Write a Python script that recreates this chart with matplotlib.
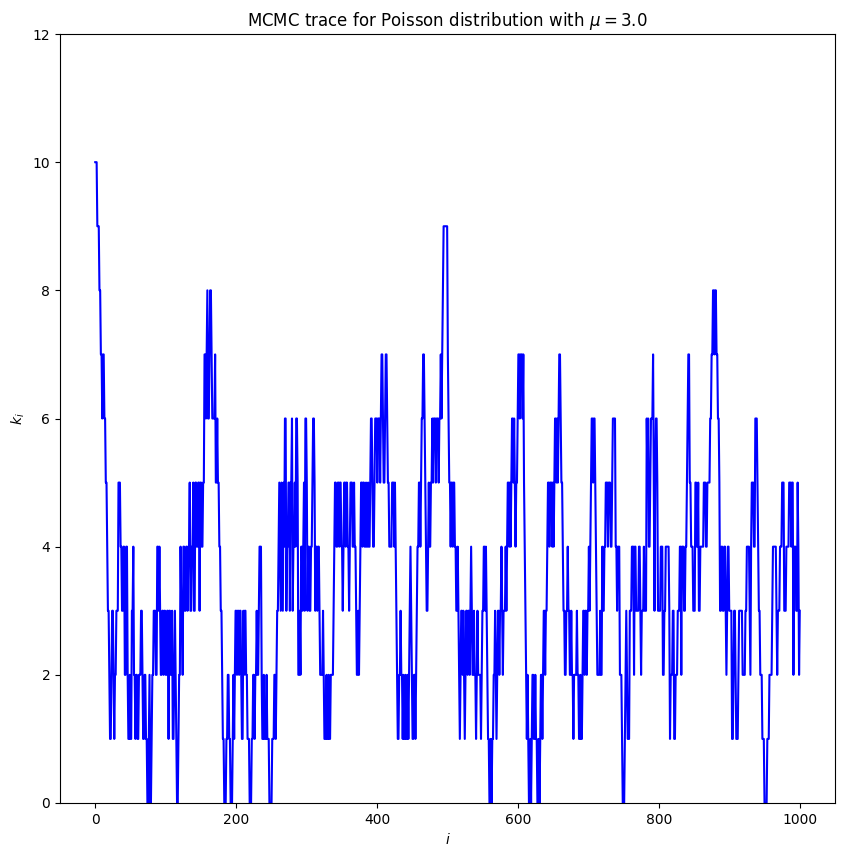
import numpy as np
import matplotlib
matplotlib.use("Agg")
import matplotlib.pyplot as plt

n_steps = 1000
mu = 3.0

# change points of the trace (step index, value from that step on)
change_idx = [0,3,6,8,10,11,13,15,17,18,20,21,23,24,26,27,28,30,33,36,38,40,42,44,46,47,49,50,52,54,55,57,58,
              60,62,65,67,68,70,72,74,76,77,78,80,81,83,86,88,90,91,92,93,95,97,98,100,102,104,105,107,109,110,
              112,113,114,115,116,118,119,121,122,124,125,127,129,131,132,134,135,137,139,140,142,144,146,148,149,151,153,155,157,158,
              159,160,162,163,165,166,170,171,173,174,176,178,180,181,183,186,188,190,192,195,196,197,198,199,201,202,204,205,207,208,
              210,211,212,214,216,219,222,224,226,227,229,230,232,233,236,237,239,240,243,244,247,251,254,256,257,258,260,261,262,263,
              264,265,266,267,268,269,271,272,274,276,277,279,280,281,283,284,285,287,288,290,291,292,294,295,296,297,298,300,301,302,
              304,306,308,309,311,312,313,315,316,318,319,323,324,325,328,329,331,332,334,338,339,340,342,344,346,347,349,351,352,353,
              355,356,358,360,361,362,365,367,368,370,371,373,374,375,376,377,379,380,382,384,385,387,388,390,391,393,394,396,397,400,
              401,404,405,406,408,409,411,412,414,415,417,421,424,425,426,427,428,429,431,433,434,436,437,438,440,441,443,444,445,446,
              447,448,449,450,452,454,455,456,457,459,461,462,463,465,467,468,469,470,472,473,474,476,478,479,480,483,484,487,488,490,
              491,492,493,494,500,501,502,504,505,507,508,510,512,514,515,516,517,518,519,521,522,523,524,525,526,528,529,531,532,533,
              534,535,537,538,540,541,542,543,547,548,549,551,553,554,555,556,557,559,561,562,563,565,567,568,569,570,571,573,574,576,
              577,578,579,582,583,584,585,587,588,589,590,591,593,594,595,596,597,599,600,602,603,606,607,608,609,610,611,612,613,614,
              615,617,618,619,620,622,624,625,627,629,630,631,632,634,635,636,638,639,641,642,644,645,648,649,650,651,652,654,655,656,
              657,658,660,661,663,664,666,668,670,671,673,675,676,678,679,683,684,686,688,689,691,692,694,695,697,698,700,701,702,703,
              704,706,707,709,710,711,712,716,717,719,720,722,724,727,728,731,733,734,738,740,741,744,747,748,751,752,753,754,755,758,
              761,764,765,767,771,773,774,775,778,779,782,783,784,785,787,788,791,792,793,794,795,797,798,802,805,807,809,814,815,816,
              819,821,823,826,829,831,832,835,837,839,840,841,843,845,848,851,853,855,856,858,863,866,868,872,874,876,878,879,881,883,
              885,886,888,890,892,894,895,896,897,899,903,905,906,908,909,912,913,918,920,922,924,928,929,930,931,934,936,939,940,941,
              943,946,949,953,956,960,961,966,967,968,971,974,977,980,984,987,988,990,991,994,996,997,998,999]
change_val = [10,9,8,7,6,7,6,5,4,3,2,1,2,3,2,1,2,3,5,4,3,4,2,4,2,1,2,1,3,4,2,1,2,
              1,2,3,2,1,2,1,0,1,2,0,1,2,3,2,4,3,4,3,2,3,2,3,2,3,1,3,2,3,1,
              2,3,2,1,0,1,2,4,3,2,4,3,4,3,4,5,3,4,5,3,5,4,5,3,5,4,5,7,6,7,
              8,6,7,8,7,6,7,5,6,5,4,3,2,1,0,1,2,1,0,1,2,1,2,3,2,3,2,3,2,1,
              3,2,3,2,1,0,1,2,1,2,3,2,3,4,2,1,2,1,2,1,0,1,2,1,2,3,4,5,4,3,
              5,4,3,5,4,6,3,4,5,3,5,6,3,4,5,4,6,5,2,3,2,4,3,4,5,3,6,5,3,4,
              3,4,5,6,5,3,4,3,4,3,2,3,2,1,2,1,2,1,2,3,4,5,4,5,4,5,4,3,4,5,
              4,5,4,3,4,5,4,5,4,3,2,3,2,3,4,5,4,5,4,5,4,5,4,5,6,5,4,5,6,5,
              6,5,6,7,6,5,6,7,6,5,4,5,4,5,4,3,2,1,2,3,2,1,2,1,2,1,2,1,2,3,
              4,3,2,1,2,1,2,3,4,5,4,5,6,7,6,5,4,3,4,5,4,5,6,5,6,5,6,5,6,7,
              6,7,8,9,7,6,5,4,5,4,5,4,3,4,3,2,1,2,3,2,3,2,1,2,3,2,3,2,3,4,
              3,2,3,2,1,2,3,2,1,2,3,4,3,4,3,2,1,0,1,0,1,2,3,2,1,2,3,2,3,4,
              3,2,3,4,3,4,5,4,5,4,5,6,5,6,5,4,5,6,7,6,7,6,7,5,4,3,2,1,2,1,
              0,1,0,1,2,1,2,1,0,1,0,1,2,1,2,3,2,3,4,5,4,5,4,5,4,5,6,5,6,5,
              6,7,6,5,4,3,2,3,4,3,2,3,2,1,2,3,2,1,2,1,2,3,2,3,2,3,4,3,4,5,
              6,5,6,5,4,3,2,3,2,4,3,4,5,4,5,4,5,6,4,3,4,2,1,0,1,2,3,2,1,3,
              4,2,4,3,4,3,2,3,4,3,6,5,6,4,5,6,7,5,3,5,6,5,3,4,2,3,4,3,1,2,
              3,1,2,3,4,2,4,3,4,5,6,7,5,4,3,5,4,5,3,4,5,4,5,6,7,8,7,8,7,6,
              5,3,4,3,4,3,2,3,4,3,1,2,3,2,1,2,3,2,2,3,4,3,2,4,5,4,6,5,4,3,
              2,1,0,1,2,3,4,3,2,3,4,5,3,4,5,4,5,2,4,3,5,4,2,3]

durations = np.diff(change_idx + [n_steps])
k = np.repeat(change_val, durations)
i = np.arange(len(k))

fig = plt.figure(figsize=(8.45, 8.58), dpi=100)
ax = fig.add_axes([60/845, 1 - 803/858, 775/845, 769/858])
ax.plot(i, k, color="blue", linewidth=1.5)
ax.set_ylim(0, 12)
ax.set_title(r"MCMC trace for Poisson distribution with $\mu = %.1f$" % mu)
ax.set_xlabel(r"$i$")
ax.set_ylabel(r"$k_i$")
fig.savefig("out.png", dpi=100)
